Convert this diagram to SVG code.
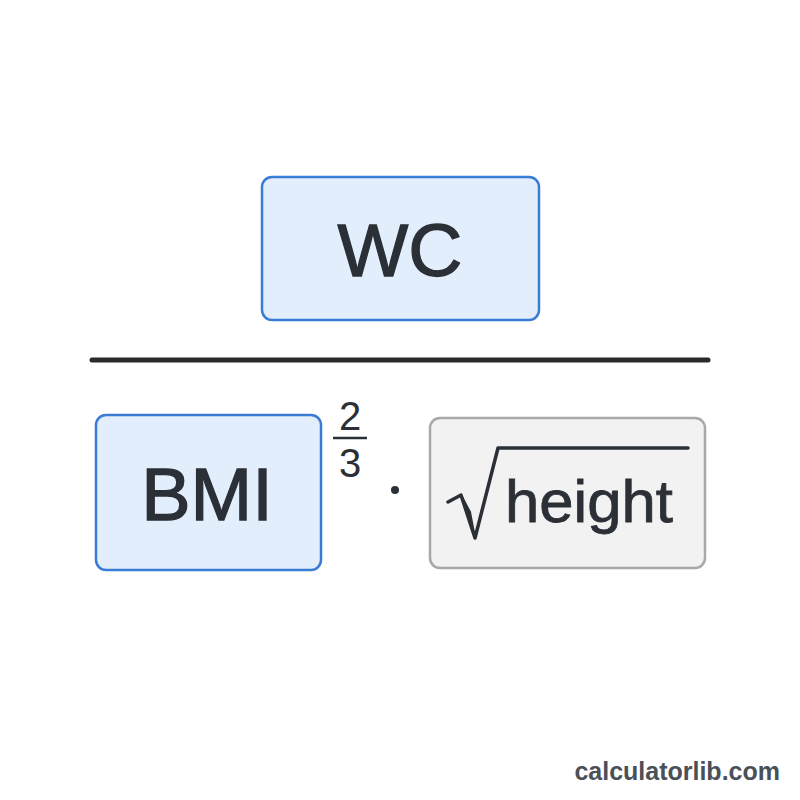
<svg xmlns="http://www.w3.org/2000/svg" width="800" height="800" viewBox="0 0 800 800">
  <style>
    .lbl { font-family: "Liberation Sans", Arial, sans-serif; fill: #2b2f36; }
    .big { stroke: #2b2f36; stroke-width: 1.3; }
    .blue { fill: #e3eefc; stroke: #3a7bd5; stroke-width: 2.5; }
    .grey { fill: #f2f2f2; stroke: #a8a8a8; stroke-width: 2.5; }
  </style>
  <rect width="800" height="800" fill="#ffffff"/>
  <g id="wc">
    <rect class="blue" x="262" y="177" width="277" height="143" rx="10"/>
    <text class="lbl big" x="400" y="276" font-size="75" text-anchor="middle">WC</text>
  </g>
  <g id="connectors">
    <line x1="92" y1="360" x2="708" y2="360" stroke="#2a2a2a" stroke-width="5" stroke-linecap="round"/>
  </g>
  <g id="bmi">
    <rect class="blue" x="96" y="415" width="225" height="155" rx="10"/>
    <text class="lbl big" x="207" y="520" font-size="74" text-anchor="middle">BMI</text>
  </g>
  <g id="exponent">
    <text class="lbl" x="350" y="430" font-size="40" text-anchor="middle">2</text>
    <line x1="333" y1="438" x2="367" y2="438" stroke="#2b2f36" stroke-width="2.5"/>
    <text class="lbl" x="350" y="477" font-size="40" text-anchor="middle">3</text>
  </g>
  <g id="dot">
    <circle cx="395" cy="490" r="4" fill="#2b2f36"/>
  </g>
  <g id="height">
    <rect class="grey" x="430" y="418" width="275" height="150" rx="10"/>
    <path d="M448 502 L461 495 L475 538 L498 448 L688 448" fill="none" stroke="#2b2f36" stroke-width="3.5" stroke-linejoin="round" stroke-linecap="round"/>
    <path d="M461 495 L475 538 L470 512 Z" fill="#2b2f36" stroke="#2b2f36" stroke-width="2" stroke-linejoin="round"/>
    <text class="lbl" x="505" y="522" font-size="60" stroke="#2b2f36" stroke-width="0.8" textLength="168" lengthAdjust="spacingAndGlyphs">height</text>
  </g>
  <text x="780" y="780" font-family="Liberation Sans, Arial, sans-serif" font-weight="bold" font-size="25" fill="#4a5058" text-anchor="end">calculatorlib.com</text>
</svg>
